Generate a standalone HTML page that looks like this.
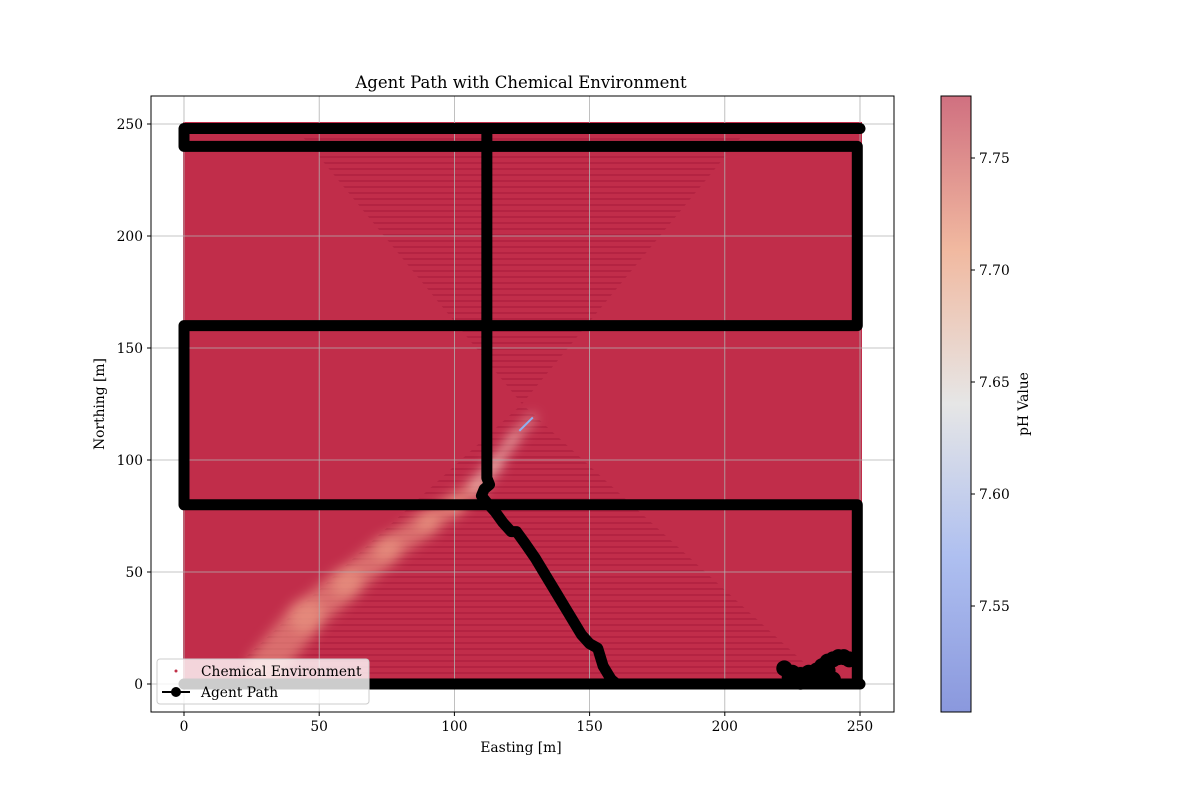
<!DOCTYPE html>
<html><head><meta charset="utf-8"><style>
body{margin:0;background:#fff;}
svg text{font-family:"DejaVu Serif","Liberation Serif",serif;fill:#000;}
</style></head><body>
<svg id="chart" width="1200" height="800" xmlns="http://www.w3.org/2000/svg">
<defs>
<linearGradient id="cw" x1="0" y1="1" x2="0" y2="0">
<stop offset="0" stop-color="#8a98dd"/><stop offset="0.25" stop-color="#aebff0"/>
<stop offset="0.5" stop-color="#e6e6e6"/><stop offset="0.75" stop-color="#f1b9a0"/>
<stop offset="1" stop-color="#d07080"/></linearGradient>
<pattern id="stripes" width="4" height="6" patternUnits="userSpaceOnUse"><rect width="4" height="2" fill="#a8193a" opacity="0.5"/></pattern>
<filter id="blur"><feGaussianBlur stdDeviation="6"/></filter>
</defs>
<text x="521" y="88" font-size="16.5" text-anchor="middle">Agent Path with Chemical Environment</text>
<g id="plot"></g>
<rect x="151" y="96" width="743" height="616" fill="none" stroke="#000" stroke-width="1"/>
<g id="legend">
<rect x="157" y="659" width="212" height="45" rx="3" fill="#fff" fill-opacity="0.8" stroke="#ccc"/>
<circle cx="176" cy="671" r="1.5" fill="#c03048"/>
<text x="201" y="676" font-size="13.8">Chemical Environment</text>
<line x1="162" y1="692" x2="190" y2="692" stroke="#000" stroke-width="2"/>
<circle cx="176" cy="692" r="5" fill="#000"/>
<text x="201" y="697" font-size="13.8">Agent Path</text>
</g>
<text x="521" y="752" font-size="13.8" text-anchor="middle">Easting [m]</text>
<text transform="translate(104,404) rotate(-90)" font-size="13.8" text-anchor="middle">Northing [m]</text>
<rect x="941" y="96" width="30" height="616" fill="url(#cw)" stroke="#000" stroke-width="1"/>
<text transform="translate(1028,404) rotate(-90)" font-size="13.8" text-anchor="middle">pH Value</text>
<g id="cbticks"></g>
</svg>
<script>
const xTicks=[0,50,100,150,200,250];
const yTicks=[0,50,100,150,200,250];
const cbTicks=[7.55,7.60,7.65,7.70,7.75];
const pathX=[250,0,0,249,249,0,0,249,249,0];
const pathY=[248,248,240,240,160,160,80,80,0,0];
const diveX=[112,112,113,111,110,112,115,118,121,123,126,130,134,138,142,145,147,150,153,154,155,157,158,160,250];
const diveY=[248,92,89,87,84,81,77,72,68,68,63,56,48,40,32,26,22,18,16,12,8,4,2,0,0];
const blobX=[222,225,228,231,234,236,238,240,242,244,246,232,228,236,240,224,238];
const blobY=[7,5,4,5,6,8,10,11,12,12,11,2,1,3,2,3,6];
const plumeX=[30,45,60,75,90,100,108,115,122,129];
const plumeY=[8,30,45,60,72,80,88,98,110,119];
const X=v=>184+v*2.704, Y=v=>684-v*2.24, CB=v=>606-(v-7.55)*2240;
const ns="http://www.w3.org/2000/svg";
function mk(t,a,p){const e=document.createElementNS(ns,t);for(const k in a)e.setAttribute(k,a[k]);p.appendChild(e);return e;}
const g=document.getElementById('plot');
let f=mk('rect',{x:X(0)-1,y:Y(250)-2,width:X(250)-X(0)+3,height:Y(0)-Y(250)+4,fill:'#c12d4a'},g);


let tri=mk('path',{d:`M${X(12)},${Y(0)} L${X(125)},${Y(125)} L${X(238)},${Y(0)} Z M${X(40)},${Y(250)} L${X(125)},${Y(125)} L${X(210)},${Y(250)} Z`,fill:'url(#stripes)'},g);


const pg=mk('g',{filter:'url(#blur)'},g);


for(let i=0;i<plumeX.length-1;i++){
 const w=Math.max(3,18-i*1.8);
 const s=mk('line',{x1:X(plumeX[i]),y1:Y(plumeY[i]),x2:X(plumeX[i+1]),y2:Y(plumeY[i+1]),stroke:i>=6?'#f3d2c4':'#eb9a85','stroke-width':w*2,'stroke-linecap':'round',opacity:0.6},pg);
 
 
}
let tip=mk('line',{x1:X(124),y1:Y(113),x2:X(129),y2:Y(119),stroke:'#8fb0f0','stroke-width':2},g);


xTicks.forEach(v=>{
 const l=mk('line',{x1:X(v),x2:X(v),y1:96,y2:712,stroke:'#b0b0b0','stroke-width':0.8},g);
 
 
 mk('line',{x1:X(v),x2:X(v),y1:712,y2:716,stroke:'#000'},g);
 const t=mk('text',{x:X(v),y:731,'font-size':13.8,'text-anchor':'middle'},g);t.textContent=v;
 
 
});
yTicks.forEach(v=>{
 const l=mk('line',{y1:Y(v),y2:Y(v),x1:151,x2:894,stroke:'#b0b0b0','stroke-width':0.8},g);
 
 
 mk('line',{y1:Y(v),y2:Y(v),x1:147,x2:151,stroke:'#000'},g);
 const t=mk('text',{x:143,y:Y(v)+5,'font-size':13.8,'text-anchor':'end'},g);t.textContent=v;
 
 
});
function poly(xs,ys,name){
 const pts=xs.map((x,i)=>X(x)+','+Y(ys[i])).join(' ');
 const p=mk('polyline',{points:pts,fill:'none',stroke:'#000','stroke-width':11,'stroke-linejoin':'round','stroke-linecap':'round'},g);
 
 
}
poly(pathX,pathY,'agent-path-survey');
poly(diveX,diveY,'agent-path-tracking');
blobX.forEach((x,i)=>{
 const c=mk('circle',{cx:X(x),cy:Y(blobY[i]),r:8,fill:'#000'},g);
 
 
});
const cb=document.getElementById('cbticks');
cbTicks.forEach(v=>{
 mk('line',{x1:971,x2:975,y1:CB(v),y2:CB(v),stroke:'#000'},cb);
 const t=mk('text',{x:979,y:CB(v)+5,'font-size':13.8},cb);t.textContent=v.toFixed(2);
 
 
});
</script>
</body></html>
